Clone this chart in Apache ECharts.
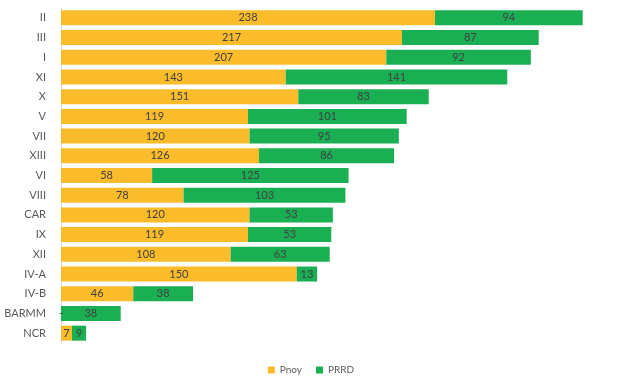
<!DOCTYPE html>
<html><head><meta charset="utf-8">
<script src="https://cdn.jsdelivr.net/npm/echarts@6/dist/echarts.min.js"></script>
<style>html,body{margin:0;padding:0;background:#fff}#c{width:622px;height:386px}</style>
</head><body><div id="c"></div>
<script>
const categories = ['II','III','I','XI','X','V','VII','XIII','VI','VIII','CAR','IX','XII','IV-A','IV-B','BARMM','NCR'];
const pnoy = [238,217,207,143,151,119,120,126,58,78,120,119,108,150,46,0,7];
const prrd = [94,87,92,141,83,101,95,86,125,103,53,53,63,13,38,38,9];

const chart = echarts.init(document.getElementById('c'));
const fontFamily = 'Lato, "Liberation Sans", sans-serif';
const lbl = {show:true, position:'inside', color:'#404040', fontSize:11, fontFamily:fontFamily,
  formatter: p => p.value === 0 ? '-' : String(p.value)};
chart.setOption({
  animation:false,
  textStyle:{fontFamily:fontFamily},
  grid:{left:61, top:8, width:550, height:335, containLabel:false},
  legend:{bottom:6, left:'center', itemWidth:7, itemHeight:7, itemGap:14,
    icon:'rect', textStyle:{color:'#595959', fontSize:10, fontFamily:fontFamily},
    data:['Pnoy','PRRD']},
  xAxis:{type:'value', min:0, max:350, show:false},
  yAxis:{type:'category', data:categories, inverse:true,
    axisLine:{show:true, lineStyle:{color:'#d9d9d9', width:1}},
    axisTick:{show:false},
    axisLabel:{color:'#595959', fontSize:11, margin:15, fontFamily:fontFamily}},
  series:[
    {name:'Pnoy', type:'bar', stack:'t', data:pnoy, barWidth:15, itemStyle:{color:'#FBBC2C'}, label:lbl},
    {name:'PRRD', type:'bar', stack:'t', data:prrd, barWidth:15, itemStyle:{color:'#1BAF54'}, label:lbl}
  ]
});
</script></body></html>
